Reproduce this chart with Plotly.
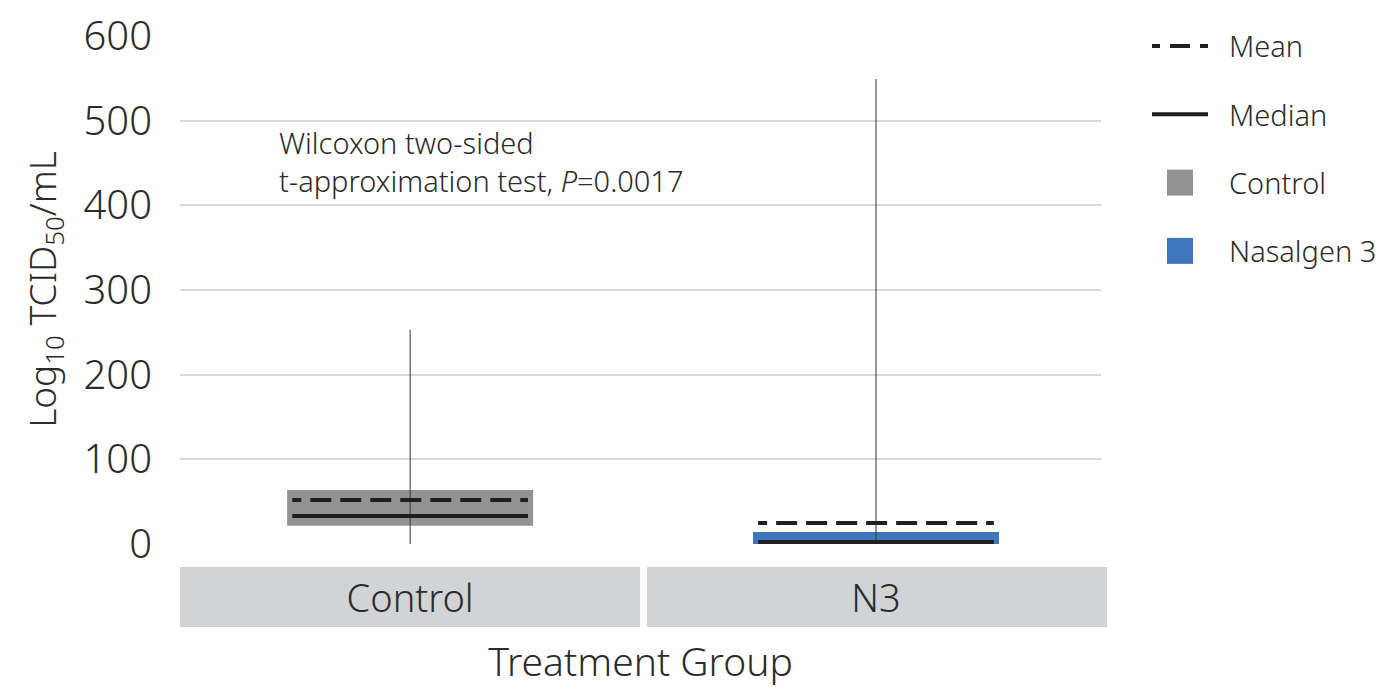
import plotly.graph_objects as go

# Summary statistics per treatment group
groups = ["Control", "N3"]
series_names = ["Control", "Nasalgen 3"]
q1 = [21.6, 0.0]
q3 = [63.8, 14.2]
medians = [33.0, 2.4]
means = [52.0, 24.8]
whisker_low = [0.0, 0.0]
whisker_high = [253.0, 549.0]
y_ticks = [0, 100, 200, 300, 400, 500, 600]

box_colors = ["#939393", "#3f77be"]
line_color = "#231f20"
font_family = "Noto Sans, Lato, sans-serif"
text_color = "#2b2b2b"
band_color = "#d1d3d5"

pos = list(range(len(groups)))
box_w = 0.528
inner_half = 0.253
# dashed mean line: short end dashes with full dashes in between
mean_dash = ",".join(["9px", "9px"] + ["21px", "9px"] * 7 + ["9px", "200px"])

fig = go.Figure()

# whiskers (drawn first so the boxes cover them)
wx, wy = [], []
for p, lo, hi in zip(pos, whisker_low, whisker_high):
    wx += [p, p, None]
    wy += [lo, hi, None]
fig.add_trace(go.Scatter(x=wx, y=wy, mode="lines", showlegend=False,
                         line=dict(color="#333333", width=1), hoverinfo="skip"))

# interquartile boxes
for p, name, lo, hi, col in zip(pos, series_names, q1, q3, box_colors):
    fig.add_trace(go.Bar(x=[p], y=[hi - lo], base=[lo], width=box_w, name=name,
                         marker=dict(color=col, line=dict(width=0)),
                         showlegend=False))

# median and mean bars, one trace per group so each dash pattern starts fresh
for p, med, mn in zip(pos, medians, means):
    xs = [p - inner_half, p + inner_half]
    fig.add_trace(go.Scatter(x=xs, y=[med, med], mode="lines", name="Median",
                             showlegend=False, line=dict(color=line_color, width=4)))
    fig.add_trace(go.Scatter(x=xs, y=[mn, mn], mode="lines", name="Mean",
                             showlegend=False,
                             line=dict(color=line_color, width=4, dash=mean_dash)))

# pixel helpers for paper-positioned decorations
W, H = 1385, 687
plot_l, plot_r, plot_t, plot_b = 180, 1101, 35, 544
pw, ph = plot_r - plot_l, plot_b - plot_t
def px(x):
    return (x - plot_l) / pw
def py(y):
    return (plot_b - y) / ph

# gray header bands behind the category labels
for x0, x1 in [(180, 640), (647, 1107)]:
    fig.add_shape(type="rect", xref="paper", yref="paper",
                  x0=px(x0), x1=px(x1), y0=py(627), y1=py(567),
                  fillcolor=band_color, line=dict(width=0), layer="below")

# statistical test note
fig.add_annotation(xref="paper", yref="paper", x=px(277), y=py(162),
                   xanchor="left", yanchor="middle", align="left", showarrow=False,
                   text="Wilcoxon two-sided<br>t-approximation test, <i>P</i>=0.0017",
                   font=dict(family=font_family, size=29, color=text_color, weight=300))

# legend
leg_font = dict(family=font_family, size=29, color=text_color, weight=300)
legend_items = [("Mean", "dash"), ("Median", "solid"),
                (series_names[0], box_colors[0]), (series_names[1], box_colors[1])]
for i, (label, kind) in enumerate(legend_items):
    yc = 46 + i * 68.3
    if kind in ("dash", "solid"):
        fig.add_shape(type="line", xref="paper", yref="paper",
                      x0=px(1152), x1=px(1208), y0=py(yc), y1=py(yc),
                      line=dict(color=line_color, width=4,
                                dash="8px,10px,20px,10px,8px" if kind == "dash" else "solid"))
    else:
        fig.add_shape(type="rect", xref="paper", yref="paper",
                      x0=px(1167), x1=px(1193), y0=py(yc + 13), y1=py(yc - 13),
                      fillcolor=kind, line=dict(width=0))
    fig.add_annotation(xref="paper", yref="paper", x=px(1227), y=py(yc),
                       xanchor="left", yanchor="middle", showarrow=False,
                       text=label, font=leg_font)

fig.update_layout(
    width=W, height=H,
    margin=dict(l=plot_l, r=W - plot_r, t=plot_t, b=H - plot_b, autoexpand=False),
    paper_bgcolor="white", plot_bgcolor="white",
    font=dict(family=font_family, color=text_color, weight=300),
    barmode="overlay", showlegend=False,
    xaxis=dict(range=[-0.494, 1.483], tickvals=pos, ticktext=groups,
               showgrid=False, zeroline=False, showline=False, ticks="",
               automargin=False,
               tickfont=dict(size=38, color=text_color, weight=300), ticklabelstandoff=29,
               title=dict(text="Treatment Group",
                          font=dict(size=39, color=text_color, weight=300),
                          standoff=32)),
    yaxis=dict(range=[0, 601], tickvals=y_ticks,
               showgrid=True, gridcolor="#d9d9d9", gridwidth=2,
               zeroline=False, showline=False, ticks="", automargin=False,
               tickfont=dict(size=40, color=text_color, weight=300), ticklabelstandoff=27,
               title=dict(text="Log<sub>10</sub> TCID<sub>50</sub>/mL",
                          font=dict(size=37, color=text_color, weight=300), standoff=15)),
)

fig.write_html("out.html")
